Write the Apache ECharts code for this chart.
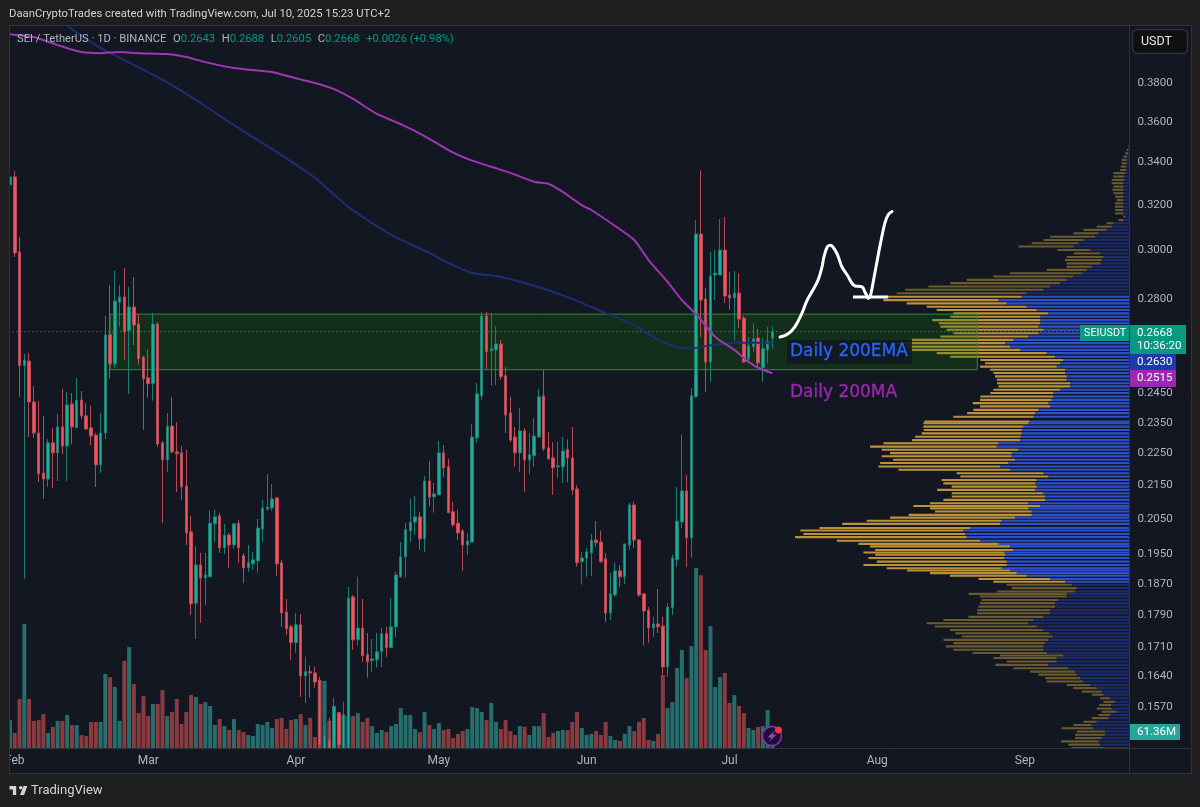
<!DOCTYPE html>
<html>
<head>
<meta charset="utf-8">
<title>SEI / TetherUS</title>
<script src="https://cdn.jsdelivr.net/npm/echarts@6/dist/echarts.min.js"></script>
<style>
  html, body { margin: 0; padding: 0; background: #1e1e1e; }
  #main { width: 1200px; height: 807px; }
</style>
</head>
<body>
<div id="main"></div>
<script>
// daily candles, Jan 31 to Jul 10 2025
var opens = [.3285,.3322,.2987,.2542,.2559,.2415,.2311,.2184,.2165,.2279,.2247,.2331,.2269,.2408,.2328,.2422,.2368,.2328,.2304,.2209,.2311,.2656,.2549,.2782,.2802,.2671,.2763,.2697,.2574,.2499,.2478,.2697,.2279,.2225,.2334,.2250,.2247,.2144,.2009,.1816,.1917,.1882,.1885,.2032,.2055,.1964,.2000,.1972,.2034,.1942,.1909,.1920,.1928,.2017,.2075,.2078,.2108,.1923,.1793,.1756,.1717,.1761,.1638,.1648,.1645,.1627,
  .1479,.1496,.1479,.1554,.1479,.1479,.1832,.1724,.1753,.1688,.1674,.1676,.1695,.1739,.1705,.1756,.1885,.1939,.2012,.2037,.2052,.1989,.2159,.2111,.2117,.2247,.2203,.2067,.2034,.2012,.1972,.1980,.2295,.2436,.2728,.2596,.2600,.2622,.2506,.2378,.2298,.2247,.2318,.2225,.2238,.2298,.2436,.2263,.2231,.2203,.2203,.2257,.2231,.2135,.1926,.1936,.1950,.1986,.1980,.1934,.1791,.1837,.1901,.1885,.1972,.2087,.1986,.1840,.1798,.1753,.1763,.1758,.1659,.1804,.1931,.2037,.2129,.1992,.2433,.3064,.2794,.2556,.2891,.2891,.2995,.2810,.2798,.2818,.2720,.2567,.2611,.2644,.2535,.2600,.2643];
var closes = [.3322,.2983,.2542,.2563,.2415,.2311,.2181,.2165,.2279,.2247,.2331,.2269,.2405,.2331,.2422,.2368,.2324,.2301,.2209,.2311,.2656,.2549,.2786,.2802,.2667,.2763,.2693,.2567,.2496,.2478,.2697,.2275,.2225,.2334,.2250,.2244,.2141,.2006,.1814,.1917,.1882,.1890,.2034,.2052,.1964,.2000,.1972,.2032,.1964,.1909,.1923,.1931,.2020,.2078,.2081,.2105,.1920,.1791,.1751,.1717,.1761,.1638,.1648,.1645,.1624,.1486,
  .1505,.1479,.1568,.1486,.1550,.1829,.1724,.1753,.1686,.1671,.1678,.1695,.1739,.1705,.1756,.1890,.1939,.2015,.2037,.2052,.1989,.2159,.2111,.2120,.2247,.2200,.2064,.2029,.2006,.1972,.1983,.2298,.2443,.2728,.2593,.2604,.2622,.2503,.2371,.2288,.2247,.2318,.2225,.2241,.2301,.2433,.2260,.2228,.2200,.2206,.2253,.2231,.2132,.1923,.1936,.1953,.1986,.1978,.1926,.1791,.1840,.1901,.1885,.1975,.2087,.1986,.1837,.1796,.1753,.1763,.1756,.1659,.1806,.1936,.2040,.2129,.1992,.2436,.3064,.2790,.2556,.2887,.2899,.2995,.2806,.2798,.2818,.2716,.2556,.2615,.2641,.2552,.2604,.2633,.2668];
var lows = [.3229,.2966,.2433,.1880,.2298,.2295,.2156,.2105,.2141,.2138,.2159,.2244,.2159,.2275,.2328,.2357,.2321,.2272,.2141,.2184,.2291,.2496,.2535,.2686,.2563,.2443,.2618,.2546,.2321,.2429,.2419,.2266,.2034,.2187,.2247,.2126,.2102,.1972,.1786,.1726,.1766,.1811,.1885,.1980,.1950,.1947,.1909,.1961,.1923,.1869,.1899,.1904,.1896,.1980,.2070,.2070,.1888,.1756,.1736,.1676,.1693,.1590,.1576,.1588,.1611,.1479,
  .1479,.1479,.1479,.1479,.1479,.1479,.1700,.1710,.1671,.1634,.1648,.1657,.1659,.1683,.1705,.1731,.1882,.1882,.1980,.2000,.1958,.1953,.2084,.2064,.2117,.2172,.2064,.2023,.1986,.1901,.1945,.1980,.2279,.2422,.2528,.2471,.2474,.2492,.2311,.2282,.2203,.2187,.2126,.2181,.2203,.2298,.2253,.2225,.2117,.2168,.2153,.2156,.2117,.1912,.1864,.1885,.1888,.1967,.1923,.1768,.1773,.1832,.1858,.1866,.1958,.1964,.1832,.1710,.1717,.1731,.1741,.1641,.1636,.1786,.1912,.2020,.1912,.1936,.2429,.2648,.2450,.2485,.2790,.2891,.2778,.2751,.2633,.2682,.2552,.2559,.2593,.2535,.2485,.2552,.2605];
var highs = [.3466,.3351,.3051,.2585,.2589,.2471,.2419,.2368,.2291,.2328,.2374,.2461,.2450,.2446,.2499,.2453,.2412,.2402,.2311,.2378,.2728,.2851,.2908,.2851,.2920,.2843,.2883,.2735,.2578,.2600,.2739,.2704,.2285,.2378,.2433,.2347,.2269,.2257,.2055,.1969,.1950,.1950,.2070,.2073,.2064,.2032,.2006,.2034,.2043,.1950,.1972,.1953,.2046,.2102,.2181,.2150,.2111,.1931,.1827,.1761,.1791,.1788,.1683,.1662,.1659,.1636,
  .1528,.1543,.1588,.1556,.1579,.1858,.1837,.1885,.1827,.1741,.1726,.1741,.1753,.1756,.1829,.1899,.1980,.2034,.2105,.2114,.2067,.2175,.2222,.2153,.2285,.2272,.2228,.2096,.2073,.2017,.2006,.2341,.2481,.2743,.2743,.2739,.2689,.2637,.2538,.2433,.2331,.2395,.2328,.2311,.2361,.2461,.2528,.2314,.2282,.2282,.2298,.2291,.2331,.2147,.1953,.1964,.2003,.2040,.2012,.1950,.1896,.1923,.1917,.1975,.2093,.2096,.1989,.1842,.1806,.1781,.1853,.1781,.1816,.1945,.2141,.2307,.2178,.2464,.3125,.3355,.2838,.2987,.2995,.3129,.3138,.2904,.2908,.2899,.2728,.2648,.2700,.2678,.2644,.2686,.2688];
var volumes = [107,58,188,476,188,104,107,130,58,81,104,104,127,88,88,50,46,100,100,100,284,272,234,104,334,387,245,134,199,123,169,169,222,123,138,188,92,138,203,196,169,176,161,88,111,84,69,111,69,61,50,46,92,88,100,77,111,115,73,107,111,130,88,115,42,261,257,104,161,138,127,123,123,134,100,115,84,58,69,61,84,92,153,
  127,127,73,61,138,88,73,96,69,73,38,54,65,73,157,153,138,107,173,100,73,107,65,50,84,81,50,84,84,134,42,58,65,69,69,100,138,77,50,54,65,50,100,46,31,27,54,84,65,100,115,31,27,54,280,153,176,307,376,268,391,690,663,376,468,234,272,288,173,203,161,134,77,69,81,84,146,61.36];

// moving averages, read at their turning points: candle index and price
var maIndex = [0,5,10,15,19,23,27,33,37,41,47,51,55,59,64,68,72,77,82,87,92,96,101,105,110,113,116,120,122,127,131,134,138,141,144,148,152,155,157,160];
var maValues = [.4067,.4050,.4004,.3965,.3959,.3965,.3959,.3954,.3937,.3909,.3876,.3865,.3854,.3827,.3795,.3762,.3710,.3632,.3580,.3520,.3451,.3408,.3370,.3341,.3299,.3290,.3252,.3192,.3170,.3099,.3038,.2953,.2863,.2790,.2735,.2648,.2600,.2556,.2535,.2515];
var emaIndex = [12,19,26,34,40,47,56,64,71,80,88,92,97,103,110,117,124,131,136,140,143,145,152,156,159,160];
var emaValues = [.4114,.3988,.3893,.3784,.3689,.3575,.3441,.3318,.3184,.3060,.2983,.2941,.2899,.2883,.2847,.2802,.2747,.2693,.2637,.2611,.2604,.2611,.2626,.2626,.2626,.2630];

// hand drawn arrow: day offset from Jan 31 and price
var sketchDays = [161.6,163.3,164.7,166.2,167.3,168.5,169.6,170.4,170.8,171.5,172.1,172.7,173.6,174.6,175.7,177.3,178.8,179.4,180.1];
var sketchPrices = [.2648,.2660,.2686,.2739,.2790,.2830,.2871,.2924,.2965,.3008,.3016,.3008,.2978,.2924,.2891,.2847,.2843,.2822,.2798];
var arrowDays = [180.1,180.5,181.5,182.6,183.6,184.3,185.1];
var arrowPrices = [.2798,.2802,.2899,.3016,.3112,.3149,.3163];
var baseDays = [176.9,184.3];
var basePrices = [.2802,.2802];

// volume profile rows
var rowPrices = [.3467,.3451,.3435,.3419,.3403,.3387,.3371,.3355,.3340,.3324,.3308,.3293,.3277,.3262,.3246,.3230,.3215,.3200,.3185,.3170,.3155,.3140,.3125,.3111,.3096,.3082,.3067,.3052,.3038,.3024,.3010,.2995,.2981,.2966,.2953,.2939,.2925,.2912,.2898,.2885,.2871,.2858,.2844,.2831,.2817,.2803,.2790,.2777,.2764,.2751,.2738,.2725,.2712,.2700,.2687,.2675,.2662,.2650,.2637,.2625,.2612,.2600,.2588,.2575,.2563,.2551,.2539,.2528,.2516,.2504,.2492,.2480,.2469,.2457,.2446,.2434,.2422,.2411,.2400,.2388,.2377,.2365,.2349,
  .2343,.2332,.2321,.2310,.2299,.2288,.2278,.2267,.2257,.2246,.2236,.2225,.2215,.2204,.2194,.2183,.2173,.2162,.2152,.2142,.2132,.2122,.2112,.2102,.2092,.2084,.2077,.2068,.2058,.2050,.2041,.2032,.2020,.2013,.2003,.1994,.1984,.1975,.1968,.1958,.1951,.1945,.1936,.1926,.1917,.1908,.1902,.1895,.1888,.1879,.1872,.1864,.1855,.1846,.1840,.1833,.1824,.1816,.1807,.1798,.1790,.1781,.1773,.1765,.1757,.1748,.1740,.1732,.1724,.1716,.1708,.1700,.1692,.1686,.1680,.1672,.1664,.1656,.1648,.1641,.1633,.1625,.1617,.1610,.1602,.1595,.1587,.1579,.1572,.1564,.1557,.1550,.1543,.1535,.1528,.1521,.1514,.1507,.1500,.1493,.1486,.1479];
var rowUp = [.3,1,1.3,2,2.7,2.7,3.3,3.3,4.3,5.3,5.3,6,6,6,6,6,6,6,6,6,6,4.3,6,16,17.7,22.7,31,34.3,46,51,56,39,29,26,27.7,29,37.7,42.7,47.7,56,62.7,69.3,79.3,86,102.7,107.7,131,122.7,102.7,92.7,81,89,89,89,91,86,91,101,116,124.3,119.3,109.3,82.7,74.3,66,69.3,72.7,64.3,64.3,62.7,62.7,59.3,59.3,69.3,76,76,77.7,81,79.3,91,94.3,96,100,
  101,106,107.7,107.7,108.7,109.3,131,132.7,111,117.7,117.7,114.3,121,129.3,119.3,86,81,92.7,94.3,92.7,94.3,86,84.3,84.3,101,89.3,101,97.7,97.7,114.3,127.7,129.3,159.3,166,164.3,162.7,149.3,131,119.3,116,125.3,124.3,125.3,122.7,122.7,127.7,119.3,112.7,102.7,79.3,64.3,57.7,52.7,54.3,62.7,62.7,71,74.3,74.3,79.3,79.3,86,96,101,92.7,86,80,76.7,81,84.3,86,86,82.7,66,72.7,72.7,81,61,54.3,52.7,49.3,46.7,39.3,32.7,27.7,26,19.3,14.3,18.3,17.7,12.7,19.3,21,32.7,37.7,36,24.3,24.3,27.7,31,29.3,26];
var rowDown = [.7,1.7,3,4,5,5,5.3,6,11.7,10.7,12.3,11.7,10,11,10,8.3,6.7,8.3,8.3,8.3,8.3,1.7,5,6.7,15,23.3,25,45,40,46.7,55,33,26.7,36.7,36.7,34,25,40,71.7,80,100,110,121.7,138.3,130,135,115,100,100,100,95,90,108,101.7,98,96.7,85,88,101.7,108,103,110,110,105,83,75,76.7,75,71.7,71.7,70,73,71.7,66.7,63,73,71.7,75.7,70,65,68,80,105,
  105,100,98,100,105.7,108,115,126.7,136.7,121.7,130,122,128.3,121.7,111.7,86.7,88,95,91.7,85,98,91.7,93.3,101.7,98.3,126.7,98.3,96.7,123,125,135,158,150.7,163,161.7,171.7,143.3,140,140,138.3,140.7,130,135.7,130,143.3,115,103,86.7,76.7,71.7,71.7,65,65,78,98,86.7,76.7,75,76.7,73,73,75,90,101.7,101.7,93.3,94.3,91,105,91.7,97.7,90,74,63.3,63.3,50,53,55,45,38.3,35,36,23.3,23.3,20,11.7,10,11.7,12,15,15,11.7,16.7,13.3,18.3,31.7,28.3,30,26.7,37.3,31.7,31.7];
var valueAreaLow = .1870, valueAreaHigh = .2805;

var priceTicks = [.38,.36,.34,.32,.30,.28,.245,.235,.225,.215,.205,.195,.187,.179,.171,.164,.157];
var monthNames = ['Jan','Feb','Mar','Apr','May','Jun','Jul','Aug','Sep'];
var currentPrice = .2668;
var zoneHigh = .2735, zoneLow = .2528;

// one category per day, running on past the last candle
var dates = [];
for (var d = 0; d < 235; d++) {
  dates.push(new Date(Date.UTC(2025, 0, 31 + d)).toISOString().slice(0, 10));
}

var upColor = '#22ab94', downColor = '#f7525f';
var uiFont = 'Roboto, "Noto Sans", sans-serif';

function zip(a, b) {
  return a.map(function (v, i) { return [v, b[i]]; });
}

function renderRow(params, api) {
  var price = api.value(1), up = api.value(0), down = api.value(2);
  var inArea = price >= valueAreaLow && price <= valueAreaHigh;
  var p0 = api.coord([0, price]);
  var p1 = api.coord([up, price]);
  var p2 = api.coord([up + down, price]);
  var h = 2.1;
  return {
    type: 'group',
    children: [
      { type: 'rect', shape: { x: p1[0], y: p0[1] - h / 2, width: p0[0] - p1[0], height: h },
        style: { fill: inArea ? '#2c50cc' : '#1b2b6c' } },
      { type: 'rect', shape: { x: p2[0], y: p0[1] - h / 2, width: p1[0] - p2[0], height: h },
        style: { fill: inArea ? '#bb9238' : '#6a5a30' } }
    ]
  };
}

function boxText(x, y, text, fill, size, weight) {
  return { type: 'text', x: x, y: y, z: 112, silent: true,
    style: { text: text, fill: fill, font: (weight || 'normal') + ' ' + (size || 12) + 'px ' + uiFont, textVerticalAlign: 'middle' } };
}
function box(x, y, w, h, fill) {
  return { type: 'rect', z: 111, silent: true, shape: { x: x, y: y, width: w, height: h }, style: { fill: fill } };
}
function frame(x, y, w, h) {
  return { type: 'rect', z: 100, silent: true, shape: { x: x, y: y, width: w, height: h }, style: { fill: '#1e1e1e' } };
}
function rule(x1, y1, x2, y2) {
  return { type: 'line', z: 101, silent: true, shape: { x1: x1, y1: y1, x2: x2, y2: y2 }, style: { stroke: '#2e323d', lineWidth: 1 } };
}

var myChart = echarts.init(document.getElementById('main'));

var option = {
  animation: false,
  backgroundColor: '#131722',
  grid: [
    { left: 7.62, top: 25, width: 1119.8, height: 723 },
    { left: 10, top: 25, width: 1119.4, height: 723 }
  ],
  xAxis: [
    { type: 'category', gridIndex: 0, data: dates, boundaryGap: true,
      axisLine: { show: false }, axisTick: { show: false }, splitLine: { show: false },
      axisLabel: {
        color: '#b2b5be', fontFamily: uiFont, fontSize: 12, margin: 7, hideOverlap: false,
        interval: function (i, v) { return v.slice(8) === '01'; },
        formatter: function (v) { return monthNames[parseInt(v.slice(5, 7), 10) - 1]; }
      } },
    { type: 'value', gridIndex: 0, min: -0.5, max: 234.5, show: false },
    { type: 'value', gridIndex: 1, min: 0, max: 1119.4, inverse: true, show: false }
  ],
  yAxis: [
    { type: 'log', gridIndex: 0, min: .1479, max: .4120, show: false, splitLine: { show: false } },
    { type: 'value', gridIndex: 0, min: 0, max: 2773, show: false, splitLine: { show: false } },
    { type: 'log', gridIndex: 1, min: .1479, max: .4120, position: 'right',
      axisLine: { show: false }, axisTick: { show: false }, splitLine: { show: false }, minorTick: { show: false },
      axisLabel: {
        margin: 8,
        customValues: priceTicks,
        rich: { p: { color: '#b2b5be', fontFamily: uiFont, fontSize: 11.5, padding: [3, 0, 0, 0] } },
        formatter: function (v) { return '{p|' + Number(v).toFixed(4) + '}'; }
      } }
  ],
  series: [
    { name: 'Volume profile', type: 'custom', xAxisIndex: 2, yAxisIndex: 2, z: 0, silent: true, clip: false,
      renderItem: renderRow, encode: { x: 0, y: 1 },
      data: rowPrices.map(function (p, i) { return [rowUp[i], p, rowDown[i]]; }) },
    { name: 'Last price', type: 'line', xAxisIndex: 2, yAxisIndex: 2, z: 2, silent: true, symbol: 'none',
      lineStyle: { type: [1, 3], color: '#5f9a94', width: 1 },
      data: [[0, currentPrice], [1119.4, currentPrice]] },
    { name: 'Volume', type: 'bar', xAxisIndex: 0, yAxisIndex: 1, barWidth: 4, z: 2, silent: true,
      data: volumes.map(function (v, i) {
        return { value: v, itemStyle: { color: closes[i] >= opens[i] ? '#266e6c' : '#8a3b40' } };
      }) },
    { name: 'SEIUSDT', type: 'candlestick', xAxisIndex: 0, yAxisIndex: 0, barWidth: 3, z: 3, silent: true,
      itemStyle: { color: upColor, color0: downColor, borderColor: '#1b7f72', borderColor0: '#b84a55', borderWidth: 1 },
      data: opens.map(function (o, i) { return [o, closes[i], lows[i], highs[i]]; }),
      markArea: { silent: true, z: 1, label: { show: false },
        itemStyle: { color: 'rgba(20,130,10,0.23)', borderColor: '#2f8f2a', borderWidth: 1 },
        data: [[{ xAxis: dates[21], yAxis: zoneHigh }, { xAxis: dates[203], yAxis: zoneLow }]] } },
    { name: 'Daily 200EMA', type: 'line', xAxisIndex: 0, yAxisIndex: 0, z: 4, silent: true, symbol: 'none', smooth: 0.2,
      lineStyle: { color: '#1d2f72', width: 2 }, data: zip(emaIndex, emaValues) },
    { name: 'Daily 200MA', type: 'line', xAxisIndex: 0, yAxisIndex: 0, z: 5, silent: true, symbol: 'none', smooth: 0.2,
      lineStyle: { color: '#a035b5', width: 2 }, data: zip(maIndex, maValues) },
    { name: 'Sketch', type: 'line', xAxisIndex: 1, yAxisIndex: 0, z: 6, silent: true, symbol: 'none', smooth: 0.4,
      lineStyle: { color: '#ffffff', width: 3, cap: 'round' }, data: zip(sketchDays, sketchPrices) },
    { name: 'Arrow', type: 'line', xAxisIndex: 1, yAxisIndex: 0, z: 6, silent: true, symbol: 'none', smooth: 0.3,
      lineStyle: { color: '#ffffff', width: 3, cap: 'round' }, data: zip(arrowDays, arrowPrices) },
    { name: 'Base', type: 'line', xAxisIndex: 1, yAxisIndex: 0, z: 6, silent: true, symbol: 'none',
      lineStyle: { color: '#ffffff', width: 3 }, data: zip(baseDays, basePrices) }
  ],
  graphic: { elements: [
    frame(0, 0, 1200, 25), frame(0, 0, 9, 807), frame(0, 774, 1200, 33), frame(1192, 0, 8, 807),
    rule(9.5, 25.5, 1191.5, 25.5), rule(9.5, 25, 9.5, 774), rule(1191.5, 25, 1191.5, 774),
    rule(9.5, 773.5, 1191.5, 773.5), rule(10, 748.5, 1191, 748.5), rule(1129.5, 25, 1129.5, 773),

    { type: 'text', x: 9, y: 14, z: 110, silent: true,
      style: { text: 'DaanCryptoTrades created with TradingView.com, Jul 10, 2025 15:23 UTC+2', fill: '#d1d4dc', font: '11.3px ' + uiFont, textVerticalAlign: 'middle' } },
    { type: 'text', x: 17, y: 39, z: 110, silent: true,
      style: {
        text: '{t|SEI / TetherUS · 1D · BINANCE}  {t|O}{v|0.2643}  {t|H}{v|0.2688}  {t|L}{v|0.2605}  {t|C}{v|0.2668}  {v|+0.0026 (+0.98%)}',
        textVerticalAlign: 'middle',
        rich: {
          t: { fill: '#b2b5be', font: '11.2px ' + uiFont },
          v: { fill: '#089981', font: '11.2px ' + uiFont }
        }
      } },

    { type: 'rect', z: 111, silent: true, shape: { x: 787, y: 340, width: 125, height: 24 }, style: { fill: 'rgba(18,22,32,0.85)' } },
    { type: 'text', x: 790, y: 352, z: 112, silent: true,
      style: { text: 'Daily 200EMA', fill: '#2962ff', font: '17px "DejaVu Sans"', textVerticalAlign: 'middle', stroke: '#2962ff', lineWidth: 0.3 } },
    { type: 'text', x: 790, y: 393, z: 112, silent: true,
      style: { text: 'Daily 200MA', fill: '#9c27b0', font: '17px "DejaVu Sans"', textVerticalAlign: 'middle', stroke: '#9c27b0', lineWidth: 0.3 } },

    { type: 'rect', z: 111, silent: true, shape: { x: 1132.5, y: 29.5, width: 55, height: 24, r: 5 }, style: { fill: '#101012', stroke: '#2e323d', lineWidth: 1.5 } },
    boxText(1141, 41.5, 'USDT', '#e6e8ee', 12.5),

    box(1080, 325, 49, 16, '#089981'), boxText(1084, 333.5, 'SEIUSDT', '#ffffff', 10.8),
    box(1130, 325, 56, 29, '#089981'), boxText(1137, 333.5, '0.2668', '#ffffff', 11.5), boxText(1137, 346.5, '10:36:20', '#ffffff', 11.5),
    box(1130, 354, 46, 16, '#1c3aa9'), boxText(1137, 362.5, '0.2630', '#ffffff', 11.5),
    box(1130, 370, 46, 17, '#9c27b0'), boxText(1137, 378.5, '0.2515', '#ffffff', 11.5),
    box(1130, 724, 50, 16, '#26a69a'), boxText(1137, 732.5, '61.36M', '#ffffff', 11.5),

    { type: 'circle', z: 111, silent: true, shape: { cx: 772, cy: 736, r: 9.5 }, style: { fill: '#1a1230', stroke: '#9c27b0', lineWidth: 1.5 } },
    { type: 'polygon', z: 112, silent: true, shape: { points: [[775, 730], [767.5, 737.5], [771.5, 737.5], [769, 742], [776.5, 734.5], [772.5, 734.5]] }, style: { fill: '#a83ac0' } },
    { type: 'circle', z: 113, silent: true, shape: { cx: 778.5, cy: 730, r: 3.5 }, style: { fill: '#f23645' } },

    { type: 'polygon', z: 110, silent: true, shape: { points: [[9.5, 786], [16.2, 786], [16.2, 795], [12.9, 795], [12.9, 789.6], [9.5, 789.6]] }, style: { fill: '#d1d4dc' } },
    { type: 'circle', z: 110, silent: true, shape: { cx: 20.7, cy: 787.8, r: 1.8 }, style: { fill: '#d1d4dc' } },
    { type: 'polygon', z: 110, silent: true, shape: { points: [[24.1, 795], [20, 795], [23.5, 786], [27.3, 786]] }, style: { fill: '#d1d4dc' } },
    { type: 'text', x: 31, y: 790.5, z: 110, silent: true,
      style: { text: 'TradingView', fill: '#d1d4dc', font: '13px ' + uiFont, textVerticalAlign: 'middle' } }
  ] }
};

option && myChart.setOption(option);
</script>
</body>
</html>
